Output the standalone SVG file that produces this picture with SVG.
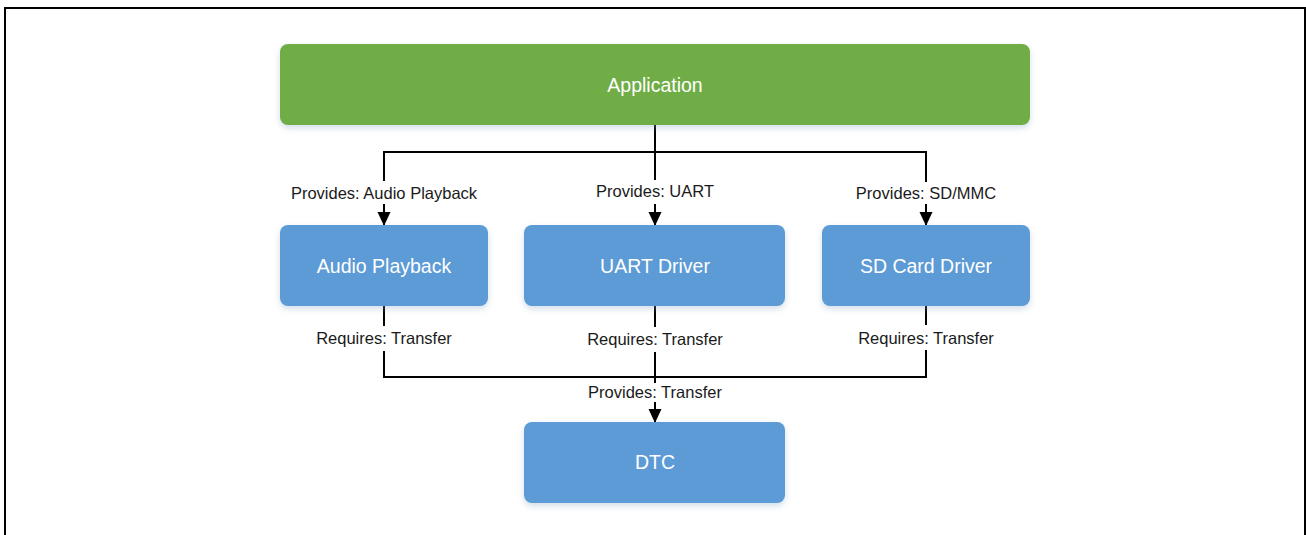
<svg xmlns="http://www.w3.org/2000/svg" width="1306" height="535" viewBox="0 0 1306 535">
<style>
.app{fill:#70AD47}
.blk{fill:#5B9BD5}
.ntxt{font-family:"Liberation Sans",Arial,sans-serif;font-size:19.5px;fill:#ffffff;text-anchor:middle}
.lbl{font-family:"Liberation Sans",Arial,sans-serif;font-size:16.5px;fill:#1a1a1a;text-anchor:middle}
.wire{fill:none;stroke:#000;stroke-width:2}
</style>
<defs>
<filter id="sh" x="-10%" y="-20%" width="120%" height="150%">
<feDropShadow dx="0" dy="3" stdDeviation="3" flood-color="#7f9fc0" flood-opacity="0.35"/>
</filter>
<marker id="arr" markerWidth="14" markerHeight="15" refX="13" refY="7" orient="auto" markerUnits="userSpaceOnUse">
<path d="M0,0.5 L14,7 L0,13.5 Z" fill="#000"/>
</marker>
</defs>
<rect width="1306" height="535" fill="#fff"/>
<path d="M5,535 V8 H1305 V535" fill="none" stroke="#000" stroke-width="2"/>

<g id="connectors">
<path class="wire" d="M655,125 V180"/>
<path class="wire" d="M384,181 V152 H926 V182"/>
<path class="wire" d="M384,204 V225" marker-end="url(#arr)"/>
<path class="wire" d="M655,204 V225" marker-end="url(#arr)"/>
<path class="wire" d="M926,204 V225" marker-end="url(#arr)"/>
<path class="wire" d="M384,306 V326"/>
<path class="wire" d="M655,306 V327"/>
<path class="wire" d="M926,306 V325"/>
<path class="wire" d="M384,351 V377 H926 V350"/>
<path class="wire" d="M655,352 V383"/>
<path class="wire" d="M655,402 V422" marker-end="url(#arr)"/>
<g id="labels">
<text class="lbl" x="384" y="199">Provides: Audio Playback</text>
<text class="lbl" x="655" y="197">Provides: UART</text>
<text class="lbl" x="926" y="199">Provides: SD/MMC</text>
<text class="lbl" x="384" y="344">Requires: Transfer</text>
<text class="lbl" x="655" y="345">Requires: Transfer</text>
<text class="lbl" x="926" y="344">Requires: Transfer</text>
<text class="lbl" x="655" y="398">Provides: Transfer</text>
</g>
</g>

<g id="application">
<rect class="app" x="280" y="44" width="750" height="81" rx="8" filter="url(#sh)"/>
<text class="ntxt" x="655" y="92">Application</text>
</g>
<g id="audio-playback">
<rect class="blk" x="280" y="225" width="208" height="81" rx="8" filter="url(#sh)"/>
<text class="ntxt" x="384" y="273">Audio Playback</text>
</g>
<g id="uart-driver">
<rect class="blk" x="524" y="225" width="261" height="81" rx="8" filter="url(#sh)"/>
<text class="ntxt" x="655" y="273">UART Driver</text>
</g>
<g id="sd-card-driver">
<rect class="blk" x="822" y="225" width="208" height="81" rx="8" filter="url(#sh)"/>
<text class="ntxt" x="926" y="273">SD Card Driver</text>
</g>
<g id="dtc">
<rect class="blk" x="524" y="422" width="261" height="81" rx="8" filter="url(#sh)"/>
<text class="ntxt" x="655" y="469">DTC</text>
</g>
</svg>
